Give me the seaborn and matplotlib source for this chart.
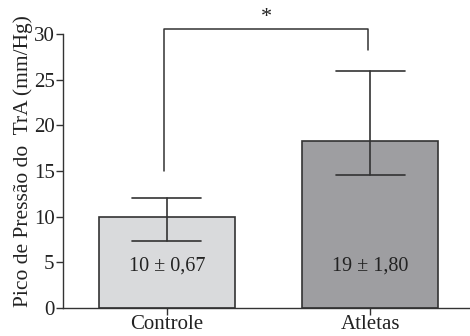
import matplotlib
matplotlib.use("Agg")
import matplotlib.pyplot as plt
import seaborn as sns
import pandas as pd

groups = ["Controle", "Atletas"]
means = [10.0, 18.3]
err_low = [7.3, 14.6]
err_high = [12.0, 26.0]
labels = ["10 ± 0,67", "19 ± 1,80"]
colors = ["#d9dadc", "#9d9ea2"]

sns.set_style("ticks")
plt.rcParams["font.family"] = ["Liberation Serif", "DejaVu Serif"]

df = pd.DataFrame({"grupo": groups, "pico": means})

fig = plt.figure(figsize=(4.7, 3.36), dpi=100)
ax = fig.add_axes([0.134, 0.0833, 0.866, 0.9167])

sns.barplot(data=df, x="grupo", y="pico", hue="grupo", palette=colors,
            width=0.667, edgecolor="#333333", linewidth=1.2, legend=False, ax=ax)

# error bars with caps
for i, (m, lo, hi) in enumerate(zip(means, err_low, err_high)):
    ax.plot([i, i], [lo, hi], color="#333333", lw=1.2, zorder=3)
    for yv in (lo, hi):
        ax.plot([i - 0.17, i + 0.17], [yv, yv], color="#333333", lw=1.2, zorder=3)
    ax.text(i, 4.6, labels[i], ha="center", va="center", fontsize=14.5, color="#222222")

# significance bracket
yb = 30.6
ax.plot([-0.015, -0.015, 0.99, 0.99], [15.0, yb, yb, 28.2], color="#333333", lw=1.1,
        clip_on=False)
ax.text(0.49, yb + 0.15, "*", ha="center", va="bottom", fontsize=16, color="#222222")

ax.set_xlim(-0.51, 1.49)
ax.set_ylim(0, 33.73)
ax.set_yticks([0, 5, 10, 15, 20, 25, 30])
ax.spines["left"].set_bounds(0, 30)
ax.spines["top"].set_visible(False)
ax.spines["right"].set_visible(False)
for s in ("left", "bottom"):
    ax.spines[s].set_color("#333333")
    ax.spines[s].set_linewidth(1.0)
ax.tick_params(axis="both", length=5, width=1.0, color="#333333",
               labelsize=15, labelcolor="#222222", pad=1)
ax.tick_params(axis="x", pad=0)
ax.set_xlabel("")
ax.set_ylabel("Pico de Pressão do  TrA (mm/Hg)", fontsize=15.5, color="#222222")
ax.yaxis.set_label_coords(-0.074, 0.477)

fig.savefig("out.png", dpi=100)
